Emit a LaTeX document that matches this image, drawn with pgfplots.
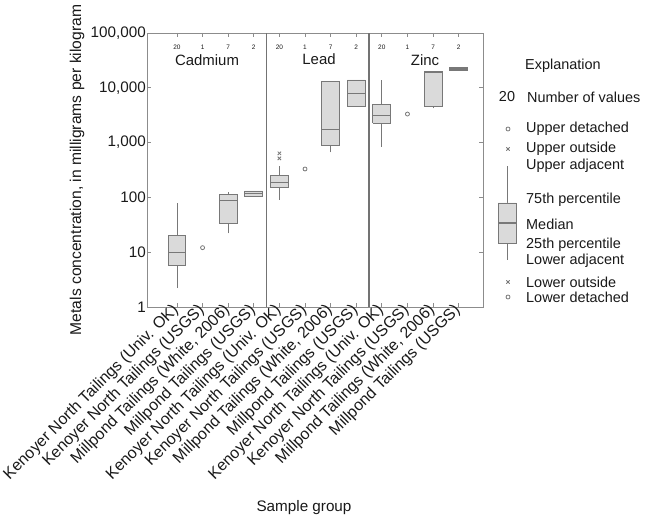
\documentclass[border=0pt]{standalone}
\usepackage{pgfplots}
\pgfplotsset{compat=1.18}
\usepackage{fontspec}
\setmainfont{Liberation Sans}
\definecolor{boxfill}{RGB}{218,218,218}
\definecolor{boxline}{RGB}{120,120,120}
\definecolor{frame}{RGB}{140,140,140}
\definecolor{divider}{RGB}{115,115,115}
\definecolor{txt}{RGB}{25,25,25}
\newcommand{\mainfs}{\fontsize{14.5}{17}\selectfont}
\newcommand{\cntfs}{\fontsize{6.5}{7}\selectfont}
% box: #1 x, #2 lower whisker, #3 q1, #4 median, #5 q3, #6 upper whisker, #7 half width
\newcommand{\bbox}[7]{%
  \pgfmathsetmacro\xl{#1-#7}\pgfmathsetmacro\xr{#1+#7}%
  \edef\tmp{%
    \noexpand\addplot[boxline, line width=0.9bp] coordinates {(#1,#2) (#1,#3)};
    \noexpand\addplot[boxline, line width=0.9bp] coordinates {(#1,#5) (#1,#6)};
    \noexpand\addplot[fill=boxfill, draw=boxline, line width=0.9bp, line join=miter] coordinates {(\xl,#3) (\xr,#3) (\xr,#5) (\xl,#5) (\xl,#3)};
    \noexpand\addplot[boxline, line width=1.1bp] coordinates {(\xl,#4) (\xr,#4)};
  }\tmp}
\begin{document}
\begin{tikzpicture}
\useasboundingbox (0,0) rectangle (646bp,520bp);
\begin{axis}[
  at={(147bp,213bp)}, anchor=south west,
  scale only axis, width=336bp, height=274bp,
  ymode=log, ymin=1, ymax=100000,
  xmin=-1.17, xmax=11.95,
  xtick={0,...,11},
  xticklabels={Kenoyer North Tailings (Univ. OK),Kenoyer North Tailings (USGS),{Millpond Tailings (White, 2006)},Millpond Tailings (USGS),
               Kenoyer North Tailings (Univ. OK),Kenoyer North Tailings (USGS),{Millpond Tailings (White, 2006)},Millpond Tailings (USGS),
               Kenoyer North Tailings (Univ. OK),Kenoyer North Tailings (USGS),{Millpond Tailings (White, 2006)},Millpond Tailings (USGS)},
  ytick={1,10,100,1000,10000,100000},
  yticklabels={1,10,100,{1,000},{10,000},{100,000}},
  yminorticks=false,
  tick align=inside, xtick pos=both, ytick pos=both,
  major tick length=4bp,
  axis line style={frame, line width=0.9bp},
  tick style={frame, line width=0.8bp},
  yticklabel style={font=\fontsize{15.3}{18}\selectfont, text=txt, inner sep=1bp},
  xticklabel style={font=\fontsize{16}{19}\selectfont, text=txt, rotate=45, anchor=east, inner sep=1bp},
  clip=false,
]
% dividers
\addplot[divider, line width=1.8bp] coordinates {(3.5,1) (3.5,100000)};
\addplot[divider, line width=1.8bp] coordinates {(7.5,1) (7.5,100000)};
% Cadmium
\bbox{0}{2.2}{5.7}{10}{20}{79}{0.35}
\bbox{2}{22}{33.7}{89}{114}{124}{0.35}
\bbox{3}{103}{103}{116}{131}{131}{0.35}
% Lead
\bbox{4}{90}{151}{186}{249}{374}{0.35}
\bbox{6}{665}{877}{1750}{13300}{13300}{0.35}
\bbox{7}{4520}{4520}{7940}{13900}{13900}{0.35}
% Zinc
\bbox{8}{842}{2240}{3090}{5060}{13900}{0.35}
\bbox{10}{4230}{4660}{19400}{19700}{19700}{0.35}
\bbox{11}{20600}{20600}{22000}{23300}{23300}{0.35}
% single values (detached circles)
\addplot[only marks, mark=o, mark size=2bp, boxline, line width=0.8bp] coordinates {(1,12.1) (5,330) (9,3320)};
% outside values
\addplot[only marks, mark=x, mark size=2.4bp, boxline, line width=0.8bp] coordinates {(4,637) (4,516)};
% counts
\node[font=\cntfs, text=txt] at (axis cs:0,56000) {20};
\node[font=\cntfs, text=txt] at (axis cs:1,56000) {1};
\node[font=\cntfs, text=txt] at (axis cs:2,56000) {7};
\node[font=\cntfs, text=txt] at (axis cs:3,56000) {2};
\node[font=\cntfs, text=txt] at (axis cs:4,56000) {20};
\node[font=\cntfs, text=txt] at (axis cs:5,56000) {1};
\node[font=\cntfs, text=txt] at (axis cs:6,56000) {7};
\node[font=\cntfs, text=txt] at (axis cs:7,56000) {2};
\node[font=\cntfs, text=txt] at (axis cs:8,56000) {20};
\node[font=\cntfs, text=txt] at (axis cs:9,56000) {1};
\node[font=\cntfs, text=txt] at (axis cs:10,56000) {7};
\node[font=\cntfs, text=txt] at (axis cs:11,56000) {2};
\end{axis}
\begin{axis}[
  at={(0bp,0bp)}, anchor=south west,
  scale only axis, width=646bp, height=520bp,
  xmin=0, xmax=646, ymin=0, ymax=520,
  hide axis, clip=false,
]
\node[font=\fontsize{15.7}{18}\selectfont, text=txt, rotate=90] at (axis cs:77,350) {Metals concentration, in milligrams per kilogram};
\node[font=\fontsize{15.3}{18}\selectfont, text=txt] at (axis cs:304,12) {Sample group};
\node[font=\fontsize{15}{18}\selectfont, text=txt] at (axis cs:207,460) {Cadmium};
\node[font=\fontsize{15}{18}\selectfont, text=txt] at (axis cs:319,461) {Lead};
\node[font=\fontsize{15}{18}\selectfont, text=txt] at (axis cs:425,460) {Zinc};
% explanation
\node[font=\mainfs, text=txt, anchor=west, inner sep=0] at (axis cs:525,454) {Explanation};
\node[font=\mainfs, text=txt] at (axis cs:507,423) {20};
\node[font=\mainfs, text=txt, anchor=west, inner sep=0] at (axis cs:527,423) {Number of values};
\node[font=\mainfs, text=txt, anchor=west, inner sep=0] at (axis cs:526,391) {Upper detached};
\node[font=\mainfs, text=txt, anchor=west, inner sep=0] at (axis cs:526,371) {Upper outside};
\node[font=\mainfs, text=txt, anchor=west, inner sep=0] at (axis cs:526,354) {Upper adjacent};
\node[font=\mainfs, text=txt, anchor=west, inner sep=0] at (axis cs:526,320) {75th percentile};
\node[font=\mainfs, text=txt, anchor=west, inner sep=0] at (axis cs:526,296) {Median};
\node[font=\mainfs, text=txt, anchor=west, inner sep=0] at (axis cs:526,275) {25th percentile};
\node[font=\mainfs, text=txt, anchor=west, inner sep=0] at (axis cs:526,259) {Lower adjacent};
\node[font=\mainfs, text=txt, anchor=west, inner sep=0] at (axis cs:526,238) {Lower outside};
\node[font=\mainfs, text=txt, anchor=west, inner sep=0] at (axis cs:526,223) {Lower detached};
\bbox{507}{260}{277}{297}{317}{354}{9}
\addplot[only marks, mark=o, mark size=2bp, boxline, line width=0.8bp] coordinates {(508,391) (508,223)};
\addplot[only marks, mark=x, mark size=2.4bp, boxline, line width=0.8bp] coordinates {(508,371) (508,238)};
\end{axis}
\end{tikzpicture}
\end{document}
